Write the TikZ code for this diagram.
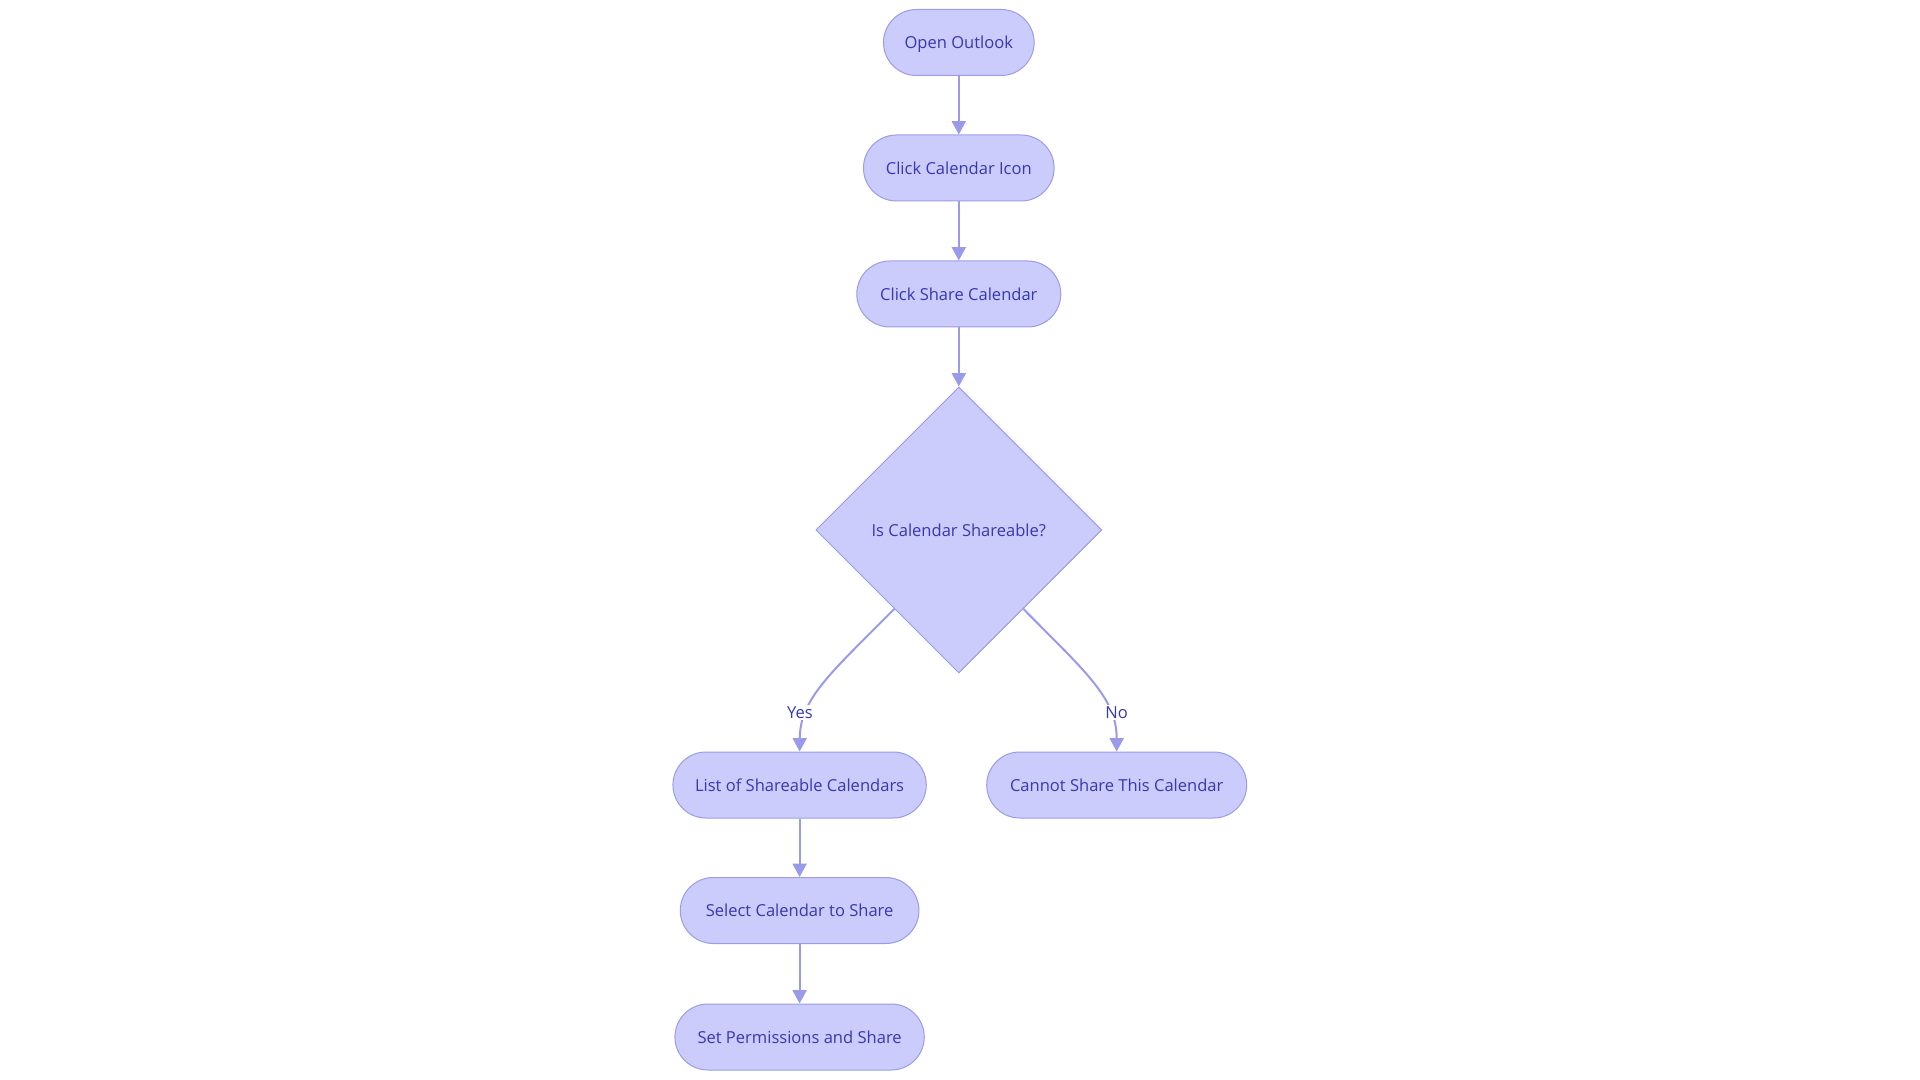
\documentclass[tikz,border=0pt]{standalone}
\usepackage{fontspec}
\setmainfont{Open Sans}
\usetikzlibrary{shapes.geometric,arrows.meta,calc}
\definecolor{nfill}{HTML}{CBCBFC}
\definecolor{nline}{HTML}{9C9CE6}
\definecolor{ntext}{HTML}{3838B0}
\definecolor{eline}{HTML}{9A9AEA}
\begin{document}
\begin{tikzpicture}[x=0.75pt,y=-0.75pt,
  font=\fontsize{12.4}{15}\selectfont,
  box/.style={draw=nline, fill=nfill, text=ntext, rounded corners=24.75pt,
    minimum height=49.5pt, inner xsep=0pt, line width=0.75pt,
    text height=0.98em, text depth=0.04em},
  dec/.style={draw=nline, fill=nfill, text=ntext, diamond, aspect=1, inner sep=0pt,
    minimum width=214.5pt, minimum height=214.5pt, line width=0.75pt},
  edge/.style={draw=eline, line width=1.5pt, -{Triangle[width=10.5pt,length=10pt]}},
  lab/.style={fill=white, text=ntext, inner sep=1pt}
]
\useasboundingbox (0,0) rectangle (1920,1080);
\node[box, minimum width=113pt] (a) at (958.8,42.5) {Open Outlook};
\node[box, minimum width=143pt] (b) at (958.8,168) {Click Calendar Icon};
\node[box, minimum width=153pt] (c) at (958.8,294) {Click Share Calendar};
\node[dec] (d) at (958.8,530) {Is Calendar Shareable?};
\node[box, minimum width=190pt] (e) at (799.6,785) {List of Shareable Calendars};
\node[box, minimum width=195pt] (f) at (1116.7,785) {Cannot Share This Calendar};
\node[box, minimum width=179pt] (g) at (799.6,910.5) {Select Calendar to Share};
\node[box, minimum width=187pt] (h) at (799.6,1037) {Set Permissions and Share};

\draw[edge] (a) -- (b);
\draw[edge] (b) -- (c);
\draw[edge] (c) -- (d);
\draw[edge] ($(d.west)!0.55!(d.south)$) .. controls (832,672) and (800,698) .. (e.north);
\draw[edge] ($(d.east)!0.55!(d.south)$) .. controls (1085.6,672) and (1116.7,698) .. (f.north);
\draw[edge] (e) -- (g);
\draw[edge] (g) -- (h);
\node[lab] (yes) at (800,712.6) {Yes};
\node[lab] (no) at (1116.7,712.6) {No};
\end{tikzpicture}
\end{document}
